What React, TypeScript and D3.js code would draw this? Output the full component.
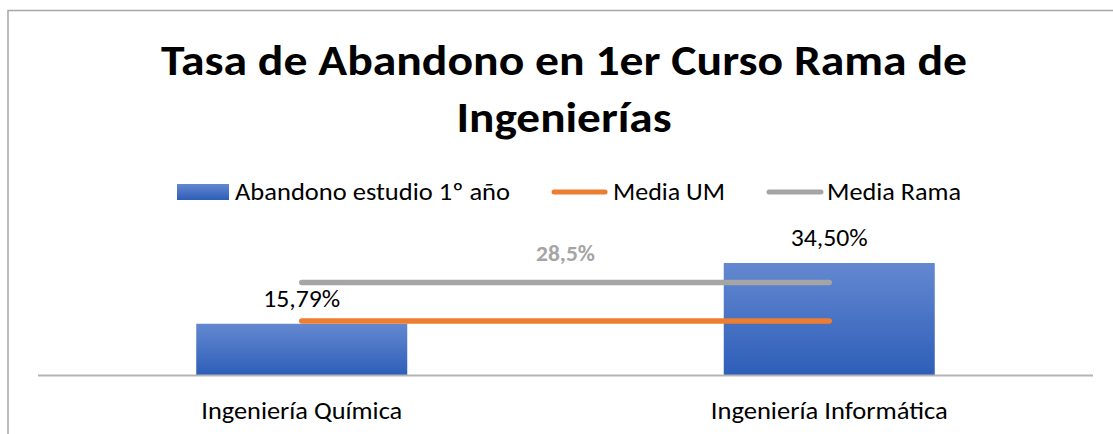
import React from "react";
import * as d3 from "d3";

const categories = ["Ingeniería Química", "Ingeniería Informática"];
const abandono = [15.79, 34.5];
const abandonoLabels = ["15,79%", "34,50%"];
const mediaUM = [16.6, 16.6];
const mediaRama = [28.5, 28.5];
const mediaRamaLabel = "28,5%";
const titleLines = ["Tasa de Abandono en 1er Curso Rama de", "Ingenierías"];
const legendItems = ["Abandono estudio 1º año", "Media UM", "Media Rama"];

const W = 1113;
const H = 434;
const FONT = "Carlito, Calibri, Lato, 'Noto Sans', sans-serif";
const ORANGE = "#ED7D31";
const GRAY = "#A5A5A5";

export default function App() {
  const x = d3
    .scaleBand<string>()
    .domain(categories)
    .range([38, 1093])
    .paddingInner(0.6)
    .paddingOuter(0.3);
  const y = d3.scaleLinear().domain([0, 40]).range([375, 245.16]);
  const cx = (c: string) => (x(c) ?? 0) + x.bandwidth() / 2;

  const line = d3
    .line<[string, number]>()
    .x((d) => cx(d[0]))
    .y((d) => y(d[1]));

  const umPath = line(categories.map((c, i) => [c, mediaUM[i]] as [string, number])) ?? "";
  const ramaPath = line(categories.map((c, i) => [c, mediaRama[i]] as [string, number])) ?? "";
  const midX = (cx(categories[0]) + cx(categories[1])) / 2;

  return (
    <svg
      width={W}
      height={H}
      style={{ position: "fixed", left: 0, top: 0, background: "#fff" }}
      fontFamily={FONT}
    >
      <defs>
        <linearGradient id="barGrad" x1="0" y1="0" x2="0" y2="1">
          <stop offset="0" stopColor="#6388D0" />
          <stop offset="1" stopColor="#2E5EB9" />
        </linearGradient>
      </defs>
      <rect x={0} y={0} width={W} height={H} fill="#fff" />
      {/* frame */}
      <path d={`M8,${H} L8,10.5 L${W},10.5`} fill="none" stroke="#A6A6A6" strokeWidth={1.5} />

      {/* title */}
      <text x={564} y={75} textAnchor="middle" fontWeight="bold" fontSize={43} fill="#000" textLength={806} lengthAdjust="spacingAndGlyphs">
        {titleLines[0]}
      </text>
      <text x={564} y={132} textAnchor="middle" fontWeight="bold" fontSize={43} fill="#000" textLength={215} lengthAdjust="spacingAndGlyphs">
        {titleLines[1]}
      </text>

      {/* legend */}
      <rect x={177} y={184} width={52} height={16} fill="url(#barGrad)" />
      <text x={235} y={199.5} fontSize={25} fill="#000" textLength={275} lengthAdjust="spacingAndGlyphs">
        {legendItems[0]}
      </text>
      <line x1={554} x2={605} y1={192} y2={192} stroke={ORANGE} strokeWidth={5} strokeLinecap="round" />
      <text x={613} y={199.5} fontSize={25} fill="#000" textLength={112} lengthAdjust="spacingAndGlyphs">
        {legendItems[1]}
      </text>
      <line x1={769} x2={821} y1={192} y2={192} stroke={GRAY} strokeWidth={5} strokeLinecap="round" />
      <text x={827} y={199.5} fontSize={25} fill="#000" textLength={134} lengthAdjust="spacingAndGlyphs">
        {legendItems[2]}
      </text>

      {/* bars */}
      {categories.map((c, i) => (
        <rect
          key={c}
          x={x(c)}
          y={y(abandono[i])}
          width={x.bandwidth()}
          height={y(0) - y(abandono[i])}
          fill="url(#barGrad)"
        />
      ))}

      {/* axis */}
      <line x1={38} x2={1093} y1={375.5} y2={375.5} stroke="#B4B4B4" strokeWidth={2} />

      {/* lines */}
      <path d={ramaPath} fill="none" stroke={GRAY} strokeWidth={5.5} strokeLinecap="round" />
      <path d={umPath} fill="none" stroke={ORANGE} strokeWidth={5.5} strokeLinecap="round" />

      {/* data labels */}
      {categories.map((c, i) => (
        <text
          key={c + "lbl"}
          x={cx(c)}
          y={y(abandono[i]) - 17}
          textAnchor="middle"
          fontSize={25}
          fill="#000"
          textLength={77}
          lengthAdjust="spacingAndGlyphs"
        >
          {abandonoLabels[i]}
        </text>
      ))}
      <text x={midX} y={y(mediaRama[0]) - 21.5} textAnchor="middle" fontSize={22} fontWeight="bold" fill={GRAY} textLength={59} lengthAdjust="spacingAndGlyphs">
        {mediaRamaLabel}
      </text>

      {/* category labels */}
      {categories.map((c, i) => (
        <text
          key={c + "cat"}
          x={cx(c)}
          y={419}
          textAnchor="middle"
          fontSize={25}
          fill="#000"
          textLength={i === 0 ? 201 : 237}
          lengthAdjust="spacingAndGlyphs"
        >
          {c}
        </text>
      ))}
    </svg>
  );
}
